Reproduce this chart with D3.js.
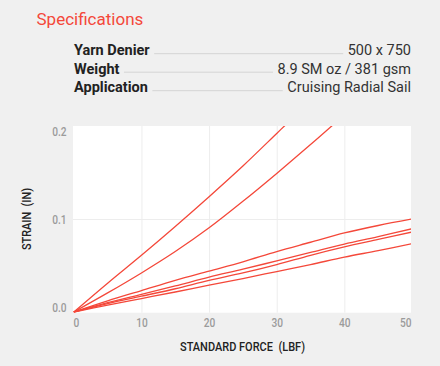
<!DOCTYPE html>
<html>
<head>
<meta charset="utf-8">
<script src="https://cdn.jsdelivr.net/npm/d3@7"></script>
<style>
  html, body { margin: 0; padding: 0; background: #f0f0f0; }
  svg { display: block; font-family: Roboto, "Noto Sans", sans-serif; }
</style>
</head>
<body>
<svg id="chart" width="440" height="366"></svg>
<script>
// ---- data ----
const specLabels = ["Yarn Denier", "Weight", "Application"];
const specValues = ["500 x 750", "8.9 SM oz / 381 gsm", "Cruising Radial Sail"];

const xTicks = [0, 10, 20, 30, 40, 50];
const yTicks = [0.0, 0.1, 0.2];

const forceA   = [0, 5, 10, 15, 20, 25, 30, 32];
const strainA  = [0, 0.031, 0.061, 0.092, 0.124, 0.157, 0.192, 0.206];
const forceB   = [0, 5, 10, 15, 20, 25, 30, 35, 40];
const strainB  = [0, 0.0205, 0.042, 0.065, 0.0905, 0.119, 0.149, 0.180, 0.212];
const forceL   = [0, 5, 10, 15, 20, 25, 30, 35, 40, 45, 50];
const strainL1 = [0, 0.012, 0.023, 0.034, 0.044, 0.054, 0.065, 0.075, 0.085, 0.093, 0.100];
const strainL2 = [0, 0.010, 0.019, 0.028, 0.0375, 0.046, 0.055, 0.064, 0.073, 0.081, 0.0895];
const strainL3 = [0, 0.009, 0.017, 0.025, 0.034, 0.042, 0.051, 0.061, 0.070, 0.078, 0.086];
const strainL4 = [0, 0.0075, 0.0145, 0.0215, 0.029, 0.036, 0.0435, 0.051, 0.059, 0.066, 0.0735];

const series = [
  [forceA, strainA], [forceB, strainB],
  [forceL, strainL1], [forceL, strainL2], [forceL, strainL3], [forceL, strainL4]
];

// ---- drawing ----
const svg = d3.select("#chart");
const red = "#f4483a";

// header
svg.append("text").attr("x", 36.5).attr("y", 24.5)
  .attr("fill", red).attr("font-size", 17).attr("font-weight", 400)
  .text("Specifications");

const rowY = [55, 73.5, 92];
const left = 74, right = 411;
specLabels.forEach((lab, i) => {
  const t1 = svg.append("text").attr("x", left).attr("y", rowY[i])
    .attr("font-size", 14.5).attr("font-weight", 700).attr("fill", "#222").text(lab);
  const t2 = svg.append("text").attr("x", right).attr("y", rowY[i])
    .attr("text-anchor", "end").attr("font-size", 14.5).attr("fill", "#333").text(specValues[i]);
  const w1 = t1.node().getComputedTextLength();
  const w2 = t2.node().getComputedTextLength();
  svg.append("line")
    .attr("x1", left + w1 + 4.5).attr("x2", right - w2 - 4.5)
    .attr("y1", rowY[i] - 1.3).attr("y2", rowY[i] - 1.3)
    .attr("stroke", "#d4d4d4").attr("stroke-width", 1);
});

// plot
const plot = {x0: 73, x1: 411, y0: 126, y1: 312.7};
const x = d3.scaleLinear().domain([0, 50]).range([73.8, 412]);
const y = d3.scaleLinear().domain([0, 0.2]).range([312, 126]);

svg.append("rect").attr("x", plot.x0).attr("y", plot.y0)
  .attr("width", plot.x1 - plot.x0).attr("height", plot.y1 - plot.y0)
  .attr("fill", "#fff");

svg.append("defs").append("clipPath").attr("id", "clip")
  .append("rect").attr("x", plot.x0).attr("y", plot.y0)
  .attr("width", plot.x1 - plot.x0).attr("height", plot.y1 - plot.y0);

// grid
const gx = svg.append("g").attr("transform", `translate(0,${plot.y1})`)
  .call(d3.axisBottom(x).tickValues(xTicks.slice(1, -1)).tickSize(plot.y1 - plot.y0).tickFormat(""));
gx.selectAll("line").attr("stroke", "#ededed").attr("transform", `translate(0,${-(plot.y1 - plot.y0)})`);
gx.select(".domain").remove();
const gy = svg.append("g").attr("transform", `translate(${plot.x0},0)`)
  .call(d3.axisRight(y).tickValues([0.1]).tickSize(plot.x1 - plot.x0).tickFormat(""));
gy.selectAll("line").attr("stroke", "#ededed");
gy.select(".domain").remove();

// tick labels via axes
const ax = svg.append("g").attr("transform", `translate(0,${plot.y1})`)
  .call(d3.axisBottom(x).tickValues(xTicks).tickSize(0).tickPadding(7).tickFormat(d3.format("d")));
ax.select(".domain").remove();
ax.selectAll("text").attr("font-family", "Roboto").attr("font-size", 13).attr("font-weight", 500).attr("fill", "#9b9b9b")
  .attr("dy", "0.6em")
  .attr("text-anchor", (d, i) => i === 0 ? "start" : (i === xTicks.length - 1 ? "end" : "middle"))
  .attr("dx", (d, i) => i === 0 ? -0.8 : (i === xTicks.length - 1 ? -1 : 0));

const ay = svg.append("g").attr("transform", `translate(${plot.x0},0)`)
  .call(d3.axisLeft(y).tickValues(yTicks).tickSize(0).tickPadding(6.5).tickFormat(d3.format(".1f")));
ay.select(".domain").remove();
ay.selectAll("text").attr("font-family", "Roboto").attr("font-size", 13).attr("font-weight", 500).attr("fill", "#9b9b9b")
  .attr("dy", (d, i) => i === 0 ? "-0.05em" : (i === yTicks.length - 1 ? "0.75em" : "0.35em"));

// condense tick labels
svg.selectAll(".tick text").each(function() {
  const w = this.getComputedTextLength();
  if (w > 0) d3.select(this).attr("textLength", w * 0.78).attr("lengthAdjust", "spacingAndGlyphs");
});

// axis titles
const xt = svg.append("text").attr("x", 242.5).attr("y", 350.7).attr("text-anchor", "middle")
  .attr("font-size", 13.5).attr("fill", "#222").attr("font-weight", 500)
  .style("white-space", "pre")
  .text("STANDARD FORCE  (LBF)");
xt.attr("textLength", 125).attr("lengthAdjust", "spacingAndGlyphs");

const yt = svg.append("text").attr("transform", "translate(30.7,219) rotate(-90)")
  .attr("text-anchor", "middle").attr("font-size", 13).attr("fill", "#222").attr("font-weight", 500)
  .style("white-space", "pre").text("STRAIN  (IN)");
yt.attr("textLength", 62).attr("lengthAdjust", "spacingAndGlyphs");

// lines
const line = d3.line().x(d => x(d[0])).y(d => y(d[1])).curve(d3.curveCatmullRom);
const lg = svg.append("g").attr("clip-path", "url(#clip)");
series.forEach(([fs, ss]) => {
  lg.append("path").datum(fs.map((f, i) => [f, ss[i]]))
    .attr("d", line).attr("fill", "none").attr("stroke", red).attr("stroke-width", 1.3);
});
</script>
</body>
</html>
